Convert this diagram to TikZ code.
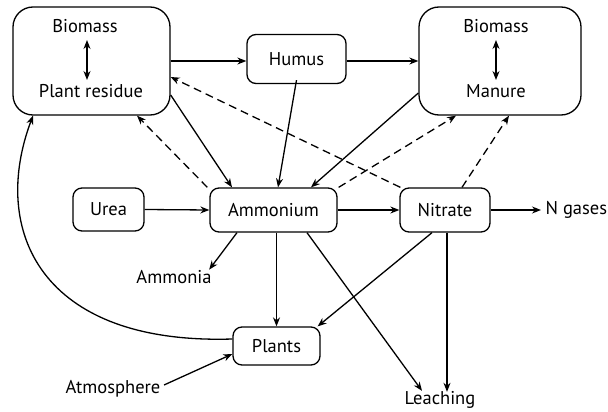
\documentclass[tikz,border=0pt]{standalone}
\usepackage{fontspec}
\setmainfont{PT Sans}
\usetikzlibrary{arrows.meta,calc}
\begin{document}
\begin{tikzpicture}[x=1pt,y=-1pt,
  line width=1.3pt,
  every node/.style={font=\fontsize{18.5}{21}\selectfont},
  bigbox/.style={draw,rounded corners=20pt,minimum width=157pt,minimum height=108pt,inner sep=0pt},
  smallbox/.style={draw,rounded corners=9pt,minimum height=44pt,inner sep=0pt},
  lbl/.style={inner sep=1pt},
  arr/.style={-{Stealth[length=9pt,width=7pt]}},
  darr/.style={{Stealth[length=9pt,width=7pt]}-{Stealth[length=9pt,width=7pt]}},
  dsh/.style={arr,dash pattern=on 8pt off 5pt}]
\useasboundingbox (0,0) rectangle (608,412);
% boxes
\node[bigbox] (bpr) at (91.5,61) {};
\node[bigbox,minimum width=162pt] (rbox) at (500,61) {};
\node[smallbox,minimum width=99pt,minimum height=49pt] (humus) at (296.5,59) {Humus};
\node[smallbox,minimum width=71pt,minimum height=43pt] (urea) at (108.5,209.5) {Urea};
\node[smallbox,minimum width=127pt] (amm) at (273.5,210) {Ammonium};
\node[smallbox,minimum width=90pt] (nit) at (445,210) {Nitrate};
\node[smallbox,minimum width=87pt,minimum height=38pt] (plants) at (276.5,346) {Plants};
% inner texts
\node[lbl] (bm1) at (85,26) {Biomass};
\node[lbl] (pr) at (91,91) {Plant residue};
\node[lbl] (bm2) at (496,26) {Biomass};
\node[lbl] (man) at (496,91) {Manure};
% free texts
\node[lbl,anchor=west] (ngas) at (544,210) {N gases};
\node[lbl] (ammonia) at (174,277) {Ammonia};
\node[lbl] (atm) at (113,389) {Atmosphere};
\node[lbl] (leach) at (440,400) {Leaching};
% double arrows
\coordinate (d1a) at (87,40); \coordinate (d1b) at (87,80);
\coordinate (d2a) at (496,40); \coordinate (d2b) at (496,80);
\draw[darr] (d1a) -- (d1b);
\draw[darr] (d2a) -- (d2b);
% connectors
\draw[arr] (bpr.east) -- (bpr.east -| humus.west);
\draw[arr] (humus.east |- rbox.west) -- (rbox.west);
\draw[arr] ([yshift=4pt]humus.south) -- ([xshift=4.5pt]amm.north);
\draw[arr] ([yshift=-34pt]bpr.east) -- ([xshift=-41.5pt]amm.north);
\draw[dsh] ([xshift=-2pt]amm.north west) -- ([xshift=45.5pt]bpr.south);
\draw[dsh] ([xshift=1pt]nit.north west) -- ([yshift=-16pt]bpr.east);
\draw[arr] ([yshift=-32pt]rbox.west) -- ([xshift=37.5pt]amm.north);
\draw[dsh] ([xshift=1pt]amm.north east) -- ([xshift=-44pt]rbox.south);
\draw[dsh] ([xshift=17pt]nit.north) -- ([xshift=9pt]rbox.south);
\draw[arr] (urea.east) -- (amm.west);
\draw[arr] (amm.east) -- (nit.west);
\draw[arr] (nit.east) -- ([xshift=-3pt]ngas.west);
\draw[arr] ([xshift=-36.5pt]amm.south) -- ([xshift=-4pt,yshift=-1pt]ammonia.north east);
\draw[arr] (amm.south -| plants.north) -- (plants.north);
\draw[arr] ([xshift=33.5pt]amm.south) -- ([xshift=-18pt,yshift=-1pt]leach.north);
\draw[arr] ([xshift=-13pt]nit.south) -- ([xshift=-3pt]plants.north east);
\draw[arr] ([xshift=2pt]nit.south) -- ([xshift=2pt,yshift=-2pt]nit.south |- leach.north);
\draw[arr] ([xshift=2pt,yshift=4pt]atm.east) -- ([yshift=-8pt]plants.west);
\draw[arr] ([yshift=7pt]plants.west) .. controls (40,345) and (-10,230) .. ([xshift=-58.5pt]bpr.south);
\end{tikzpicture}
\end{document}
